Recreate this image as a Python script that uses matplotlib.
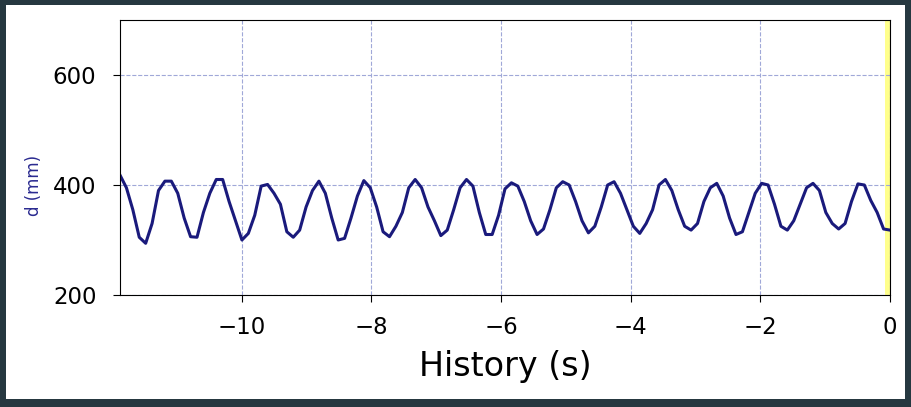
import numpy as np
import matplotlib
matplotlib.use("Agg")
import matplotlib.pyplot as plt
from matplotlib.patches import Rectangle

# distance samples (mm), last ~12 s of history
d_mm = [418, 395, 355, 305, 294, 330, 390, 407, 407, 385,
        340, 306, 305, 350, 385, 410, 410, 370, 335, 300,
        312, 345, 398, 401, 385, 365, 315, 305, 318, 360,
        390, 407, 385, 340, 300, 303, 340, 380, 408, 395,
        360, 315, 306, 325, 350, 395, 410, 395, 360, 335,
        308, 318, 355, 395, 410, 398, 350, 310, 310, 345,
        393, 404, 398, 370, 335, 310, 320, 355, 395, 406,
        400, 370, 335, 313, 325, 360, 400, 406, 385, 355,
        325, 312, 330, 355, 400, 410, 390, 355, 325, 318,
        330, 370, 395, 403, 380, 340, 310, 315, 350, 385,
        403, 400, 365, 325, 318, 335, 365, 395, 403, 390,
        350, 330, 320, 330, 370, 402, 400, 372, 350, 320,
        318]
sample_dt = 0.099
t_start = -11.88
x_ticks = [-10, -8, -6, -4, -2, 0]
y_ticks = [200, 400, 600]

t = t_start + sample_dt * np.arange(len(d_mm))

fig = plt.figure(figsize=(9.12, 4.07), dpi=100, facecolor="#263840")
# white card inside the dark frame
fig.patches.append(Rectangle((6 / 912, 8 / 407), 899 / 912, 394 / 407,
                             transform=fig.transFigure, facecolor="white",
                             edgecolor="none", zorder=-5))

ax = fig.add_axes([120 / 912, 1 - 295 / 407, 770 / 912, 275 / 407])
ax.plot(t, d_mm, color="#1a1a7c", linewidth=2.2)
ax.axvspan(-0.07, 0, color="#ffff70", alpha=0.8, linewidth=0)

ax.set_xlim(t[0], 0)
ax.set_ylim(200, 700)
ax.set_xticks(x_ticks)
ax.set_yticks(y_ticks)
ax.tick_params(labelsize=16.5, length=5)
ax.tick_params(axis="y", pad=12)
ax.tick_params(axis="x", pad=10)
ax.set_xlabel("History (s)", fontsize=24)
ax.xaxis.set_label_coords(0.5, -0.2)
ax.set_ylabel("d (mm)", fontsize=12, color="#2a2a90")
ax.yaxis.set_label_coords(-0.10, 0.40)
ax.grid(True, linestyle="--", color="#a0a8d8", linewidth=0.8)

fig.savefig("out.png", dpi=100, facecolor=fig.get_facecolor())
